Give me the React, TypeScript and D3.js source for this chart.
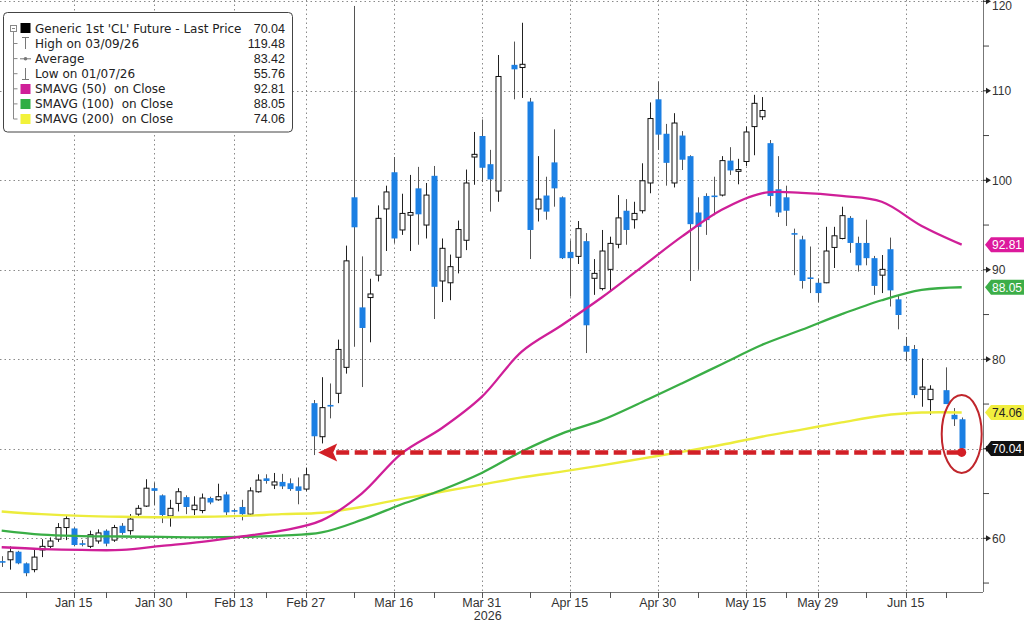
import React from 'react';
import * as d3 from 'd3';

// daily candles: [date, open, high, low, close]
const candles: [string, number, number, number, number][] = [
  ['2026-01-02', 57.45, 58.0, 56.8, 57.35],
  ['2026-01-05', 57.6, 59.1, 56.5, 58.5],
  ['2026-01-06', 58.5, 58.6, 57.1, 57.2],
  ['2026-01-07', 57.2, 57.3, 55.76, 56.1],
  ['2026-01-08', 56.5, 58.9, 56.2, 57.9],
  ['2026-01-09', 58.7, 59.9, 57.9, 59.1],
  ['2026-01-12', 59.1, 60.1, 58.9, 59.7],
  ['2026-01-13', 59.9, 61.7, 59.6, 61.2],
  ['2026-01-14', 61.2, 62.5, 59.8, 62.2],
  ['2026-01-15', 61.1, 61.2, 59.1, 59.25],
  ['2026-01-16', 59.45, 59.8, 59.1, 59.35],
  ['2026-01-20', 59.1, 60.85, 58.9, 60.4],
  ['2026-01-21', 59.7, 61.0, 59.4, 60.6],
  ['2026-01-22', 60.85, 61.0, 59.1, 59.4],
  ['2026-01-23', 59.8, 61.5, 59.6, 61.2],
  ['2026-01-26', 61.4, 61.7, 60.4, 60.6],
  ['2026-01-27', 60.85, 62.7, 60.4, 62.15],
  ['2026-01-28', 62.7, 63.7, 62.5, 63.35],
  ['2026-01-29', 63.6, 66.6, 63.5, 65.6],
  ['2026-01-30', 65.6, 66.2, 63.7, 65.3],
  ['2026-02-02', 64.8, 64.9, 61.7, 62.6],
  ['2026-02-03', 62.5, 64.3, 61.3, 63.35],
  ['2026-02-04', 63.9, 65.6, 63.0, 65.2],
  ['2026-02-05', 64.6, 64.8, 62.7, 63.5],
  ['2026-02-06', 63.2, 64.7, 62.6, 63.7],
  ['2026-02-09', 63.1, 65.0, 62.8, 64.5],
  ['2026-02-10', 64.5, 64.65, 63.8, 64.0],
  ['2026-02-11', 64.3, 66.1, 64.2, 64.65],
  ['2026-02-12', 64.9, 65.2, 62.6, 62.9],
  ['2026-02-13', 63.15, 63.3, 62.9, 63.05],
  ['2026-02-17', 63.5, 64.3, 62.0, 62.7],
  ['2026-02-18', 62.7, 65.7, 62.5, 65.3],
  ['2026-02-19', 65.2, 67.15, 65.1, 66.5],
  ['2026-02-20', 66.7, 67.15, 66.1, 66.4],
  ['2026-02-23', 65.95, 67.3, 65.5, 66.3],
  ['2026-02-24', 66.3, 67.2, 65.5, 65.8],
  ['2026-02-25', 66.15, 66.7, 65.3, 65.5],
  ['2026-02-26', 65.8, 66.8, 63.8, 65.3],
  ['2026-02-27', 65.5, 67.9, 65.3, 67.1],
  ['2026-03-02', 75.1, 75.45, 69.3, 71.4],
  ['2026-03-03', 71.35, 78.0, 70.6, 74.6],
  ['2026-03-04', 74.9, 77.3, 73.4, 74.8],
  ['2026-03-05', 76.2, 82.2, 75.1, 81.1],
  ['2026-03-06', 79.1, 92.7, 78.4, 91.0],
  ['2026-03-09', 98.1, 119.48, 81.4, 94.75],
  ['2026-03-10', 85.8, 91.5, 76.9, 83.5],
  ['2026-03-11', 86.9, 89.0, 81.9, 87.3],
  ['2026-03-12', 89.4, 97.2, 88.7, 95.75],
  ['2026-03-13', 96.8, 99.4, 92.1, 98.7],
  ['2026-03-16', 100.9, 102.6, 93.0, 93.5],
  ['2026-03-17', 94.45, 98.5, 93.9, 96.3],
  ['2026-03-18', 96.1, 100.6, 92.1, 96.4],
  ['2026-03-19', 99.1, 101.5, 92.8, 96.2],
  ['2026-03-20', 95.0, 99.7, 93.5, 98.35],
  ['2026-03-23', 100.5, 101.6, 84.5, 88.1],
  ['2026-03-24', 88.75, 93.5, 86.4, 92.4],
  ['2026-03-25', 88.55, 91.7, 86.6, 90.35],
  ['2026-03-26', 91.4, 95.5, 89.6, 94.5],
  ['2026-03-27', 93.3, 101.2, 92.2, 99.7],
  ['2026-03-30', 102.6, 105.4, 99.5, 102.9],
  ['2026-03-31', 104.95, 106.8, 99.8, 101.4],
  ['2026-04-01', 101.8, 103.4, 96.5, 100.1],
  ['2026-04-02', 98.8, 114.0, 97.6, 111.6],
  ['2026-04-06', 112.9, 115.5, 109.05, 112.4],
  ['2026-04-07', 112.6, 117.6, 109.2, 112.96],
  ['2026-04-08', 108.8, 109.2, 91.2, 94.45],
  ['2026-04-09', 96.8, 102.7, 95.4, 97.9],
  ['2026-04-10', 98.3, 100.4, 95.6, 96.5],
  ['2026-04-13', 102.0, 105.7, 97.05, 99.1],
  ['2026-04-14', 98.1, 98.2, 91.2, 91.3],
  ['2026-04-15', 92.0, 93.3, 87.0, 91.3],
  ['2026-04-16', 91.5, 95.45, 90.65, 94.6],
  ['2026-04-17', 93.2, 94.1, 80.7, 83.8],
  ['2026-04-20', 89.05, 91.2, 87.2, 89.6],
  ['2026-04-21', 87.9, 94.45, 87.7, 92.1],
  ['2026-04-22', 90.05, 93.7, 87.7, 92.95],
  ['2026-04-23', 92.85, 98.35, 92.4, 95.8],
  ['2026-04-24', 96.6, 97.9, 92.8, 94.45],
  ['2026-04-27', 95.6, 97.6, 94.6, 96.3],
  ['2026-04-28', 96.6, 101.9, 96.3, 99.95],
  ['2026-04-29', 99.7, 108.7, 98.55, 106.9],
  ['2026-04-30', 109.05, 111.0, 103.4, 105.1],
  ['2026-05-01', 105.2, 106.3, 99.4, 101.95],
  ['2026-05-04', 99.7, 107.5, 99.2, 106.4],
  ['2026-05-05', 105.0, 105.5, 101.15, 102.3],
  ['2026-05-06', 102.7, 102.8, 88.75, 95.1],
  ['2026-05-07', 96.4, 98.1, 90.0, 94.8],
  ['2026-05-08', 98.25, 98.55, 93.9, 95.55],
  ['2026-05-11', 98.3, 100.4, 96.1, 98.15],
  ['2026-05-12', 98.35, 102.7, 98.2, 102.2],
  ['2026-05-13', 102.2, 103.7, 100.6, 101.1],
  ['2026-05-14', 101.0, 102.4, 99.55, 101.2],
  ['2026-05-15', 102.1, 106.0, 101.6, 105.4],
  ['2026-05-18', 106.0, 109.55, 102.8, 108.6],
  ['2026-05-19', 107.1, 109.3, 106.75, 107.8],
  ['2026-05-20', 104.15, 104.5, 97.1, 98.25],
  ['2026-05-21', 99.0, 102.7, 95.9, 96.4],
  ['2026-05-22', 98.1, 99.4, 94.9, 96.6],
  ['2026-05-26', 94.1, 94.6, 89.4, 93.95],
  ['2026-05-27', 93.4, 93.8, 87.9, 88.75],
  ['2026-05-28', 89.15, 92.6, 87.4, 89.05],
  ['2026-05-29', 88.55, 89.05, 86.4, 87.4],
  ['2026-06-01', 88.55, 94.8, 88.5, 92.1],
  ['2026-06-02', 92.5, 94.8, 90.2, 93.8],
  ['2026-06-03', 93.5, 97.05, 93.4, 96.05],
  ['2026-06-04', 95.8, 96.0, 91.9, 93.0],
  ['2026-06-05', 93.0, 93.7, 89.8, 90.5],
  ['2026-06-08', 93.0, 95.6, 90.5, 91.3],
  ['2026-06-09', 91.3, 91.55, 87.2, 88.2],
  ['2026-06-10', 89.4, 91.65, 87.4, 90.05],
  ['2026-06-11', 92.3, 93.6, 85.9, 87.7],
  ['2026-06-12', 86.7, 87.2, 83.35, 84.95],
  ['2026-06-15', 81.5, 82.5, 79.8, 80.85],
  ['2026-06-16', 81.15, 81.6, 75.65, 76.0],
  ['2026-06-17', 76.65, 80.1, 74.7, 76.9],
  ['2026-06-18', 75.5, 77.1, 73.8, 76.65],
  ['2026-06-22', 76.55, 79.1, 75.0, 75.0],
  ['2026-06-23', 73.8, 74.55, 72.55, 73.3],
  ['2026-06-24', 73.3, 73.5, 69.8, 70.04],
];

// sessions that keep a slot on the axis but have no bar
const emptySessions = ['2026-04-03', '2026-06-19'];

// moving averages read every 5 sessions
const maDates = [
  '2026-01-02', '2026-01-09', '2026-01-16', '2026-01-26', '2026-02-02',
  '2026-02-09', '2026-02-17', '2026-02-24', '2026-03-03', '2026-03-10',
  '2026-03-17', '2026-03-24', '2026-03-31', '2026-04-07', '2026-04-14',
  '2026-04-21', '2026-04-28', '2026-05-05', '2026-05-12', '2026-05-19',
  '2026-05-27', '2026-06-03', '2026-06-10', '2026-06-17', '2026-06-24',
];
const sma50 = [
  59.0, 58.8, 58.7, 58.7, 59.15, 59.6, 60.2, 60.85, 62.0, 65.0, 69.5, 72.3, 75.8,
  80.85, 83.8, 86.9, 90.3, 93.7, 96.7, 98.55, 98.6, 98.25, 97.6, 94.9, 92.81,
];
const sma100 = [
  60.85, 60.4, 60.25, 60.2, 60.15, 60.1, 60.15, 60.3, 60.65, 62.05, 63.8, 65.4, 67.3,
  69.7, 71.7, 73.2, 75.2, 77.3, 79.45, 81.6, 83.3, 85.05, 86.6, 87.75, 88.05,
];
const sma200 = [
  63.0, 62.7, 62.5, 62.4, 62.35, 62.4, 62.5, 62.7, 62.85, 63.5, 64.4, 65.2, 66.0,
  66.8, 67.45, 68.15, 68.9, 69.65, 70.45, 71.35, 72.15, 72.95, 73.7, 74.05, 74.06,
];

const yTicks = [60, 70, 80, 90, 100, 110, 120];
const yMinorTicks = [55, 65, 75, 85, 95, 105, 115];
const xTickDates = [
  '2026-01-15', '2026-01-30', '2026-02-13', '2026-02-27', '2026-03-16', '2026-03-31',
  '2026-04-15', '2026-04-30', '2026-05-15', '2026-05-29', '2026-06-15',
];
const xTickLabels = [
  'Jan 15', 'Jan 30', 'Feb 13', 'Feb 27', 'Mar 16', 'Mar 31',
  'Apr 15', 'Apr 30', 'May 15', 'May 29', 'Jun 15',
];
const xMinorDates = [
  '2026-01-07', '2026-01-22', '2026-02-05', '2026-02-20', '2026-03-09', '2026-03-23',
  '2026-04-08', '2026-04-22', '2026-05-07', '2026-05-22', '2026-06-08', '2026-06-22',
];

const legendLabels = [
  "Generic 1st 'CL' Future - Last Price",
  'High on 03/09/26',
  'Average',
  'Low on 01/07/26',
  'SMAVG (50)  on Close',
  'SMAVG (100)  on Close',
  'SMAVG (200)  on Close',
];
const legendValues = ['70.04', '119.48', '83.42', '55.76', '92.81', '88.05', '74.06'];

const tagValues = [92.81, 88.05, 74.06, 70.04];
const tagFills = ['#dc1a9c', '#3cae48', '#f1ee3e', '#111111'];
const tagText = ['#ffffff', '#ffffff', '#222222', '#ffffff'];

// red annotation: level the arrow points back to
const supportLevel = 69.6;
const supportFrom = '2026-03-02';
const supportTo = '2026-06-24';

const BLUE = '#1b7fe3';
const MAGENTA = '#cf1f98';
const GREEN = '#3aae46';
const YELLOW = '#ecec3c';
const FONT = '"Liberation Sans", Arial, sans-serif';
const LEGEND_FONT = '"DejaVu Sans", Verdana, sans-serif';

const PLOT_R = 983;
const PLOT_B = 592;

const App: React.FC = () => {
  const sessions = [...candles.map((c) => c[0]), ...emptySessions].sort();

  const x = d3.scalePoint<string>().domain(sessions).range([1.7, 961.7]);
  const y = d3.scaleLinear().domain([60, 120]).range([538.3, 1.3]);
  const step = x.step();

  const maLine = d3
    .line<number>()
    .x((_, i) => x(maDates[i])!)
    .y((d) => y(d))
    .curve(d3.curveCatmullRom.alpha(0.5));

  const dots = '1.5,3';

  const tagPath = (v: number) => {
    const cy = y(v);
    return `M985,${cy} L991,${cy - 7.5} L1024,${cy - 7.5} L1024,${cy + 7.5} L991,${cy + 7.5} Z`;
  };

  // a tick label hidden under a value tag is not drawn
  const coveredByTag = (t: number) => tagValues.some((v) => Math.abs(y(v) - y(t)) < 10);

  const supY = y(supportLevel);
  const arrowTip = x(supportFrom)! + 4.5;
  const lastX = x(supportTo)!;

  return (
    <svg
      width={1024}
      height={622}
      style={{ position: 'absolute', left: 0, top: 0, background: '#fff' }}
      fontFamily={FONT}
    >
      {/* grid */}
      <g stroke="#8a8a8a" strokeWidth={1} strokeDasharray={dots}>
        {yTicks.map((t) => (
          <line key={t} x1={0} x2={PLOT_R} y1={Math.round(y(t)) + 0.5} y2={Math.round(y(t)) + 0.5} />
        ))}
        {xTickDates.map((d) => (
          <line key={d} x1={Math.round(x(d)!) + 0.5} x2={Math.round(x(d)!) + 0.5} y1={0} y2={PLOT_B} />
        ))}
      </g>

      {/* candles */}
      <g>
        {candles.map(([d, o, h, l, c]) => {
          const cx = Math.round(x(d)!);
          const up = c >= o;
          const top = y(Math.max(o, c));
          const bot = y(Math.min(o, c));
          const bh = Math.max(1.6, bot - top);
          return (
            <g key={d}>
              <line
                x1={cx + 0.5}
                x2={cx + 0.5}
                y1={y(h)}
                y2={y(l)}
                stroke={up ? '#222' : '#555'}
                strokeWidth={1}
              />
              {up ? (
                <rect x={cx - 2} y={top} width={5} height={bh} fill="#fff" stroke="#111" strokeWidth={1} />
              ) : (
                <rect x={cx - 2.5} y={top} width={6} height={bh} fill={BLUE} />
              )}
            </g>
          );
        })}
      </g>

      {/* moving averages */}
      <path d={maLine(sma200)!} fill="none" stroke={YELLOW} strokeWidth={2.4} />
      <path d={maLine(sma100)!} fill="none" stroke={GREEN} strokeWidth={2.3} />
      <path d={maLine(sma50)!} fill="none" stroke={MAGENTA} strokeWidth={2.3} />

      {/* red annotation */}
      <line
        x1={arrowTip + 18}
        x2={lastX}
        y1={supY}
        y2={supY}
        stroke="#d21f26"
        strokeWidth={4.5}
        strokeDasharray="13,5.5"
      />
      <path
        d={`M${arrowTip},${supY} L${arrowTip + 19},${supY - 9} L${arrowTip + 15},${supY} L${arrowTip + 19},${supY + 9} Z`}
        fill="#d21f26"
      />
      <circle cx={lastX} cy={supY} r={4.5} fill="#d21f26" />
      <ellipse
        cx={lastX}
        cy={y(71.65)}
        rx={step * 2.5}
        ry={y(67.3) - y(71.65)}
        fill="none"
        stroke="#c0262c"
        strokeWidth={2}
      />

      {/* axes */}
      <line x1={PLOT_R + 0.5} x2={PLOT_R + 0.5} y1={0} y2={PLOT_B} stroke="#777" />
      <line x1={0} x2={PLOT_R} y1={PLOT_B + 0.5} y2={PLOT_B + 0.5} stroke="#777" />
      {yMinorTicks.map((t) => (
        <line key={t} x1={PLOT_R} x2={PLOT_R + 6} y1={y(t)} y2={y(t)} stroke="#444" />
      ))}
      {yTicks.map((t) => (
        <g key={t}>
          <line x1={PLOT_R} x2={PLOT_R + 4} y1={y(t)} y2={y(t)} stroke="#222" />
          <path d={`M${PLOT_R + 3},${y(t) - 3} L${PLOT_R + 8},${y(t)} L${PLOT_R + 3},${y(t) + 3} Z`} fill="#222" />
          {!coveredByTag(t) && (
            <text x={PLOT_R + 9} y={Math.max(y(t) + 4.5, 10)} fontSize={12} fill="#333">
              {t}
            </text>
          )}
        </g>
      ))}
      {[...xTickDates, ...xMinorDates].map((d) => (
        <line
          key={d}
          x1={Math.round(x(d)!) + 0.5}
          x2={Math.round(x(d)!) + 0.5}
          y1={PLOT_B}
          y2={PLOT_B + 6}
          stroke="#555"
        />
      ))}
      {xTickDates.map((d, i) => (
        <text key={d} x={x(d)!} y={606.5} fontSize={12.5} fill="#333" textAnchor="middle">
          {xTickLabels[i]}
        </text>
      ))}
      <text x={x('2026-03-31')! + 6} y={620} fontSize={12.5} fill="#333" textAnchor="middle">
        2026
      </text>

      {/* last value tags */}
      {tagValues.map((v, i) => (
        <g key={v}>
          <path d={tagPath(v)} fill={tagFills[i]} />
          <text x={992} y={y(v) + 4.3} fontSize={12} fill={tagText[i]}>
            {v.toFixed(2)}
          </text>
        </g>
      ))}

      {/* legend */}
      <g>
        <rect x={3.5} y={12.5} width={289} height={119.5} rx={4} fill="#fff" stroke="#444" strokeWidth={1} />
        <g stroke="#888" strokeWidth={1} fill="none">
          <rect x={10.5} y={25.5} width={6} height={6} />
          <line x1={12} x2={15} y1={28.5} y2={28.5} />
          <line x1={13.5} x2={13.5} y1={31.5} y2={119} />
          {legendLabels.slice(1).map((_, i) => (
            <line key={i} x1={13.5} x2={17.5} y1={43.5 + i * 15.1} y2={43.5 + i * 15.1} />
          ))}
        </g>
        <rect x={20.5} y={23} width={10} height={10} fill="#000" />
        <g stroke="#777" strokeWidth={1}>
          <line x1={22} x2={29} y1={37.5} y2={37.5} />
          <line x1={25.5} x2={25.5} y1={37.5} y2={49} />
          <line x1={20} x2={31} y1={58.8} y2={58.8} />
          <line x1={25.5} x2={25.5} y1={68} y2={79.5} />
          <line x1={22} x2={29} y1={79.5} y2={79.5} />
        </g>
        <circle cx={25.5} cy={58.8} r={1.8} fill="#777" />
        <rect x={20.5} y={84} width={10} height={10} fill={MAGENTA} />
        <rect x={20.5} y={99} width={10} height={10} fill="#2fae45" />
        <rect x={20.5} y={114} width={10} height={10} fill="#f2f23a" />
        {legendLabels.map((t, i) => (
          <g key={t}>
            <text
              x={35}
              y={32.6 + i * 15.1}
              fontSize={12}
              fontFamily={LEGEND_FONT}
              fill="#222"
              style={{ whiteSpace: 'pre' }}
            >
              {t}
            </text>
            <text x={285} y={32.6 + i * 15.1} fontSize={12.5} fill="#222" textAnchor="end">
              {legendValues[i]}
            </text>
          </g>
        ))}
      </g>
    </svg>
  );
};

export default App;
